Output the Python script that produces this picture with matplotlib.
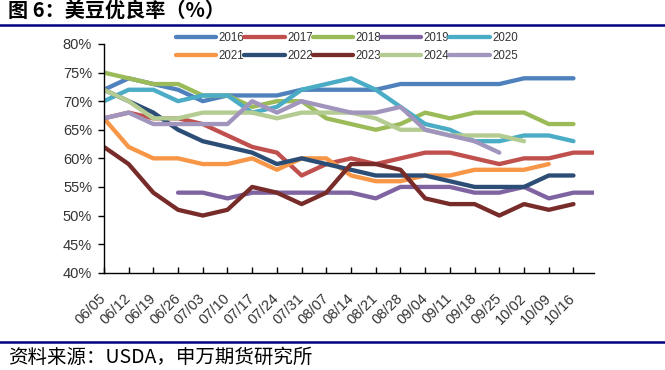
import matplotlib
matplotlib.use('Agg')
import matplotlib.pyplot as plt
from matplotlib.lines import Line2D
import numpy as np

nan = np.nan

dates = ['06/05', '06/12', '06/19', '06/26', '07/03', '07/10', '07/17', '07/24',
         '07/31', '08/07', '08/14', '08/21', '08/28', '09/04', '09/11', '09/18',
         '09/25', '10/02', '10/09', '10/16']

y2016 = [72, 74, 73, 72, 70, 71, 71, 71, 72, 72, 72, 72, 73, 73, 73, 73, 73, 74, 74, 74]
y2017 = [67, 68, 67, 67, 66, 64, 62, 61, 57, 59, 60, 59, 60, 61, 61, 60, 59, 60, 60, 61, 61]
y2018 = [75, 74, 73, 73, 71, 71, 69, 70, 70, 67, 66, 65, 66, 68, 67, 68, 68, 68, 66, 66]
y2019 = [nan, nan, nan, 54, 54, 53, 54, 54, 54, 54, 54, 53, 55, 55, 55, 54, 54, 55, 53, 54, 54]
y2020 = [70, 72, 72, 70, 71, 71, 68, 69, 72, 73, 74, 72, 69, 66, 65, 63, 63, 64, 64, 63]
y2021 = [67, 62, 60, 60, 59, 59, 60, 58, 60, 60, 57, 56, 56, 57, 57, 58, 58, 58, 59]
y2022 = [72, 70, 68, 65, 63, 62, 61, 59, 60, 59, 58, 57, 57, 57, 56, 55, 55, 55, 57, 57]
y2023 = [62, 59, 54, 51, 50, 51, 55, 54, 52, 54, 59, 59, 58, 53, 52, 52, 50, 52, 51, 52]
y2024 = [72, 70, 67, 67, 68, 68, 68, 67, 68, 68, 68, 67, 65, 65, 64, 64, 64, 63]
y2025 = [67, 68, 66, 66, 66, 66, 70, 68, 70, 69, 68, 68, 69, 65, 64, 63, 61]

series = [
    ('2016', y2016, '#4F81BD'),
    ('2017', y2017, '#C0504D'),
    ('2018', y2018, '#9BBB59'),
    ('2019', y2019, '#8064A2'),
    ('2020', y2020, '#4BACC6'),
    ('2021', y2021, '#F79646'),
    ('2022', y2022, '#2C4D75'),
    ('2023', y2023, '#772C2A'),
    ('2024', y2024, '#B4CC91'),
    ('2025', y2025, '#A195BE'),
]

cjk = ['Noto Sans CJK SC', 'DejaVu Sans']
narrow = ['Liberation Sans Narrow', 'Liberation Sans', 'DejaVu Sans']

W, H = 665, 370
fig = plt.figure(figsize=(W / 100, H / 100), dpi=100)

# plot area in pixels: left 104, right 593.5, top 44 (80%), bottom 272.7 (40%)
x0, x1, ytop, ybot = 103.9, 593.5, 44.0, 272.7
ax = fig.add_axes([x0 / W, (H - ybot) / H, (x1 - x0) / W, (ybot - ytop) / H])

lines = []
for name, vals, color in series:
    v = np.array(vals, dtype=float)
    ln, = ax.plot(np.arange(len(v)), v, color=color, lw=3.1, label=name,
                  solid_capstyle='round', solid_joinstyle='round')
    lines.append(ln)

ax.set_xlim(0, 19.81)
ax.set_ylim(40, 80)
ax.set_yticks(np.arange(40, 81, 5))
ax.set_yticklabels(['%d%%' % t for t in range(40, 81, 5)])
ax.set_xticks(np.arange(len(dates)))
ax.set_xticklabels(dates)

for s in ['top', 'right']:
    ax.spines[s].set_visible(False)
for s in ['left', 'bottom']:
    ax.spines[s].set_linewidth(1.0)
    ax.spines[s].set_color('black')

ax.tick_params(axis='y', direction='out', length=4, width=1, pad=4.5,
               labelsize=10.5, labelcolor='#333333')
ax.tick_params(axis='x', direction='in', length=4.5, width=1, pad=17,
               labelsize=10.5, labelcolor='#333333')
for lab in ax.get_yticklabels() + ax.get_xticklabels():
    lab.set_family(narrow)
plt.setp(ax.get_xticklabels(), rotation=45, ha='right', va='center',
         rotation_mode='anchor')

# legend: 2 rows x 5 columns, filled row by row
order = [0, 5, 1, 6, 2, 7, 3, 8, 4, 9]
leg = fig.legend([lines[i] for i in order], [series[i][0] for i in order],
                 loc='upper left', bbox_to_anchor=(176 / W, 1 - 32 / H),
                 ncol=5, frameon=False, borderpad=0, borderaxespad=0,
                 handlelength=3.5, handletextpad=0.2, columnspacing=0.0,
                 labelspacing=0.55, prop={'family': narrow, 'size': 8.3})
for t in leg.get_texts():
    t.set_color('#333333')

# title and source with navy rules
fig.text(8 / W, 1 - 10 / H, '图 6：美豆优良率（%）', fontsize=14.5, fontweight='bold',
         va='center', ha='left', family=cjk)
fig.add_artist(Line2D([0, 1], [1 - 25 / H, 1 - 25 / H], transform=fig.transFigure,
                      color='#000080', lw=1.8))
fig.add_artist(Line2D([0, 1], [1 - 342 / H, 1 - 342 / H], transform=fig.transFigure,
                      color='#000080', lw=1.8))
fig.text(8 / W, 1 - 357 / H, '资料来源：USDA，申万期货研究所', fontsize=14,
         va='center', ha='left', family=cjk)

fig.savefig('out.png', dpi=100)
